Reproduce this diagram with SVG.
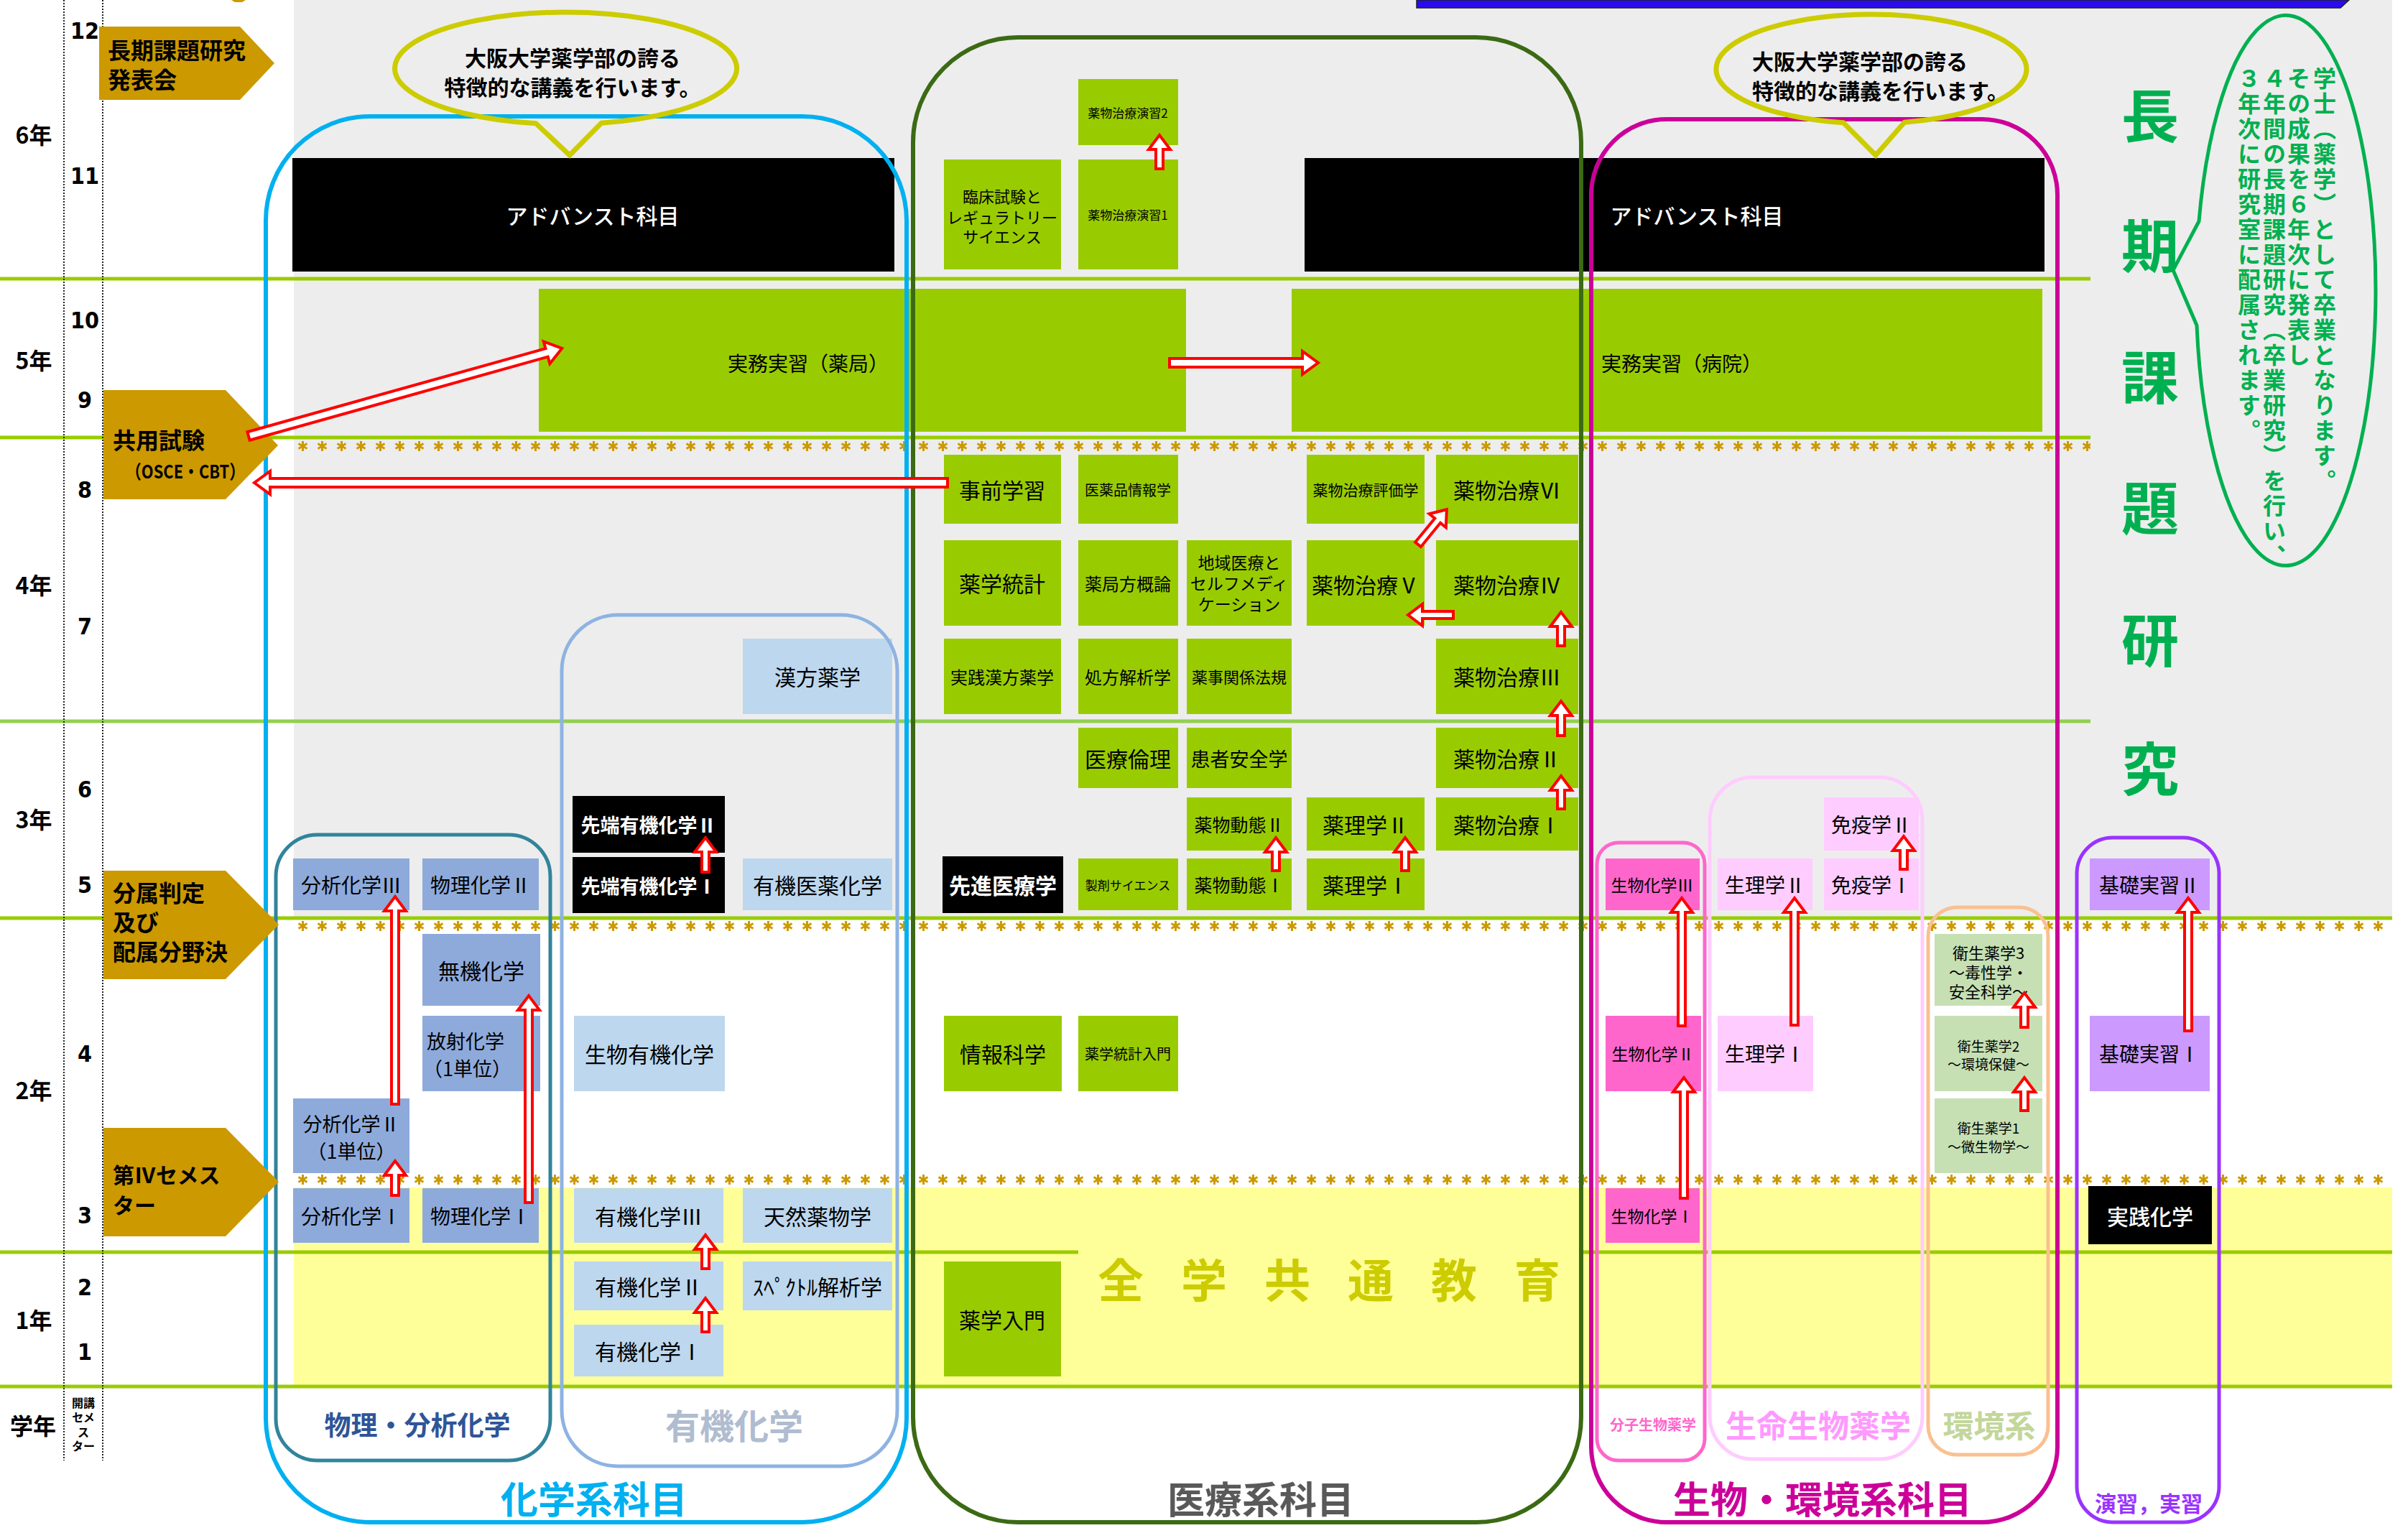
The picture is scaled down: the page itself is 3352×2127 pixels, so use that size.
<svg xmlns="http://www.w3.org/2000/svg" width="3352" height="2127" viewBox="0 0 3352 2127">
<style>
text{font-family:"Noto Sans CJK JP","Noto Sans CJK SC",sans-serif;}
.n{font-size:30px;fill:#000;text-anchor:middle;dominant-baseline:central;}
.w{fill:#fff;}
.gr{fill:#99cc00}
.b1{fill:#8eaadb}
.b2{fill:#bdd7ee}
.k{fill:#000}
.pk{fill:#ff66cc}
.lp{fill:#ffccff}
.lg{fill:#c6e0b4}
.pu{fill:#cc99ff}
.pent{fill:#cc9900}
.pt{font-size:32px;font-weight:bold;fill:#000;dominant-baseline:central;}
.yr{font-size:32px;font-weight:bold;fill:#000;text-anchor:middle;dominant-baseline:central;}
.sem{font-family:"DejaVu Sans Condensed","Liberation Sans Narrow","Liberation Sans",sans-serif;font-size:32px;font-weight:bold;fill:#000;text-anchor:middle;dominant-baseline:central;}
.hl{stroke:#99cc00;stroke-width:5;}
.cont{fill:none;}
.arr{fill:#fff;stroke:#ff0000;stroke-width:4;}
.lbl{font-weight:bold;text-anchor:middle;dominant-baseline:central;}
.vt{font-size:32px;font-weight:bold;fill:#00b050;writing-mode:vertical-rl;letter-spacing:3px;}
</style>
<defs>
<pattern id="ast" x="408" y="0" width="27" height="28" patternUnits="userSpaceOnUse">
<g stroke="#cc9900" stroke-width="3"><line x1="13.5" y1="7" x2="13.5" y2="21"/><line x1="7.5" y1="10.5" x2="19.5" y2="17.5"/><line x1="7.5" y1="17.5" x2="19.5" y2="10.5"/></g>
</pattern>
</defs>
<rect width="3352" height="2127" fill="#fff"/>
<rect x="409" y="0" width="2921" height="1278" fill="#ededed"/>
<rect x="409" y="1653" width="2921" height="275" fill="#ffff99"/>
<polygon points="1972,0 3270,0 3258,11 1972,11" fill="#2a0ced" stroke="#222" stroke-width="1.5"/>
<polygon points="322,0 342,0 337,3 327,3" fill="#cc9900"/>

<g id="grid">
<line class="hl" x1="0" y1="388" x2="2910" y2="388"/>
<line class="hl" x1="0" y1="609" x2="2910" y2="609"/>
<line x1="0" y1="1004" x2="2910" y2="1004" stroke="#92d050" stroke-width="5"/>
<line class="hl" x1="0" y1="1278" x2="3330" y2="1278"/>
<line class="hl" x1="0" y1="1743" x2="1501" y2="1743"/>
<line class="hl" x1="2201" y1="1743" x2="3330" y2="1743"/>
<line class="hl" x1="0" y1="1930" x2="3330" y2="1930"/>
<rect x="408" y="0" width="2502" height="28" fill="url(#ast)" transform="translate(0,607)"/>
<rect x="408" y="0" width="2922" height="28" fill="url(#ast)" transform="translate(0,1275)"/>
<rect x="408" y="0" width="2922" height="28" fill="url(#ast)" transform="translate(0,1628)"/>
<line x1="89" y1="0" x2="89" y2="2033" stroke="#222" stroke-width="2" stroke-dasharray="2 2"/>
<line x1="143" y1="0" x2="143" y2="2033" stroke="#222" stroke-width="2" stroke-dasharray="2 2"/>
</g>

<g id="years">
<text class="yr" x="47" y="186">6年</text>
<text class="yr" x="47" y="500">5年</text>
<text class="yr" x="47" y="813">4年</text>
<text class="yr" x="47" y="1139">3年</text>
<text class="yr" x="47" y="1516">2年</text>
<text class="yr" x="47" y="1836">1年</text>
<text class="yr" x="46" y="1983">学年</text>
<text class="sem" x="118" y="43">12</text>
<text class="sem" x="118" y="245">11</text>
<text class="sem" x="118" y="446">10</text>
<text class="sem" x="118" y="557">9</text>
<text class="sem" x="118" y="682">8</text>
<text class="sem" x="118" y="872">7</text>
<text class="sem" x="118" y="1099">6</text>
<text class="sem" x="118" y="1232">5</text>
<text class="sem" x="118" y="1467">4</text>
<text class="sem" x="118" y="1692">3</text>
<text class="sem" x="118" y="1792">2</text>
<text class="sem" x="118" y="1882">1</text>
<text font-size="16" font-weight="bold" text-anchor="middle" dominant-baseline="central"><tspan x="116" y="1952">開講</tspan><tspan x="116" y="1972">セメ</tspan><tspan x="116" y="1993">ス</tspan><tspan x="116" y="2012">ター</tspan></text>
</g>

<!-- chemistry nodes -->
<g id="n-bunseki3"><rect class="b1" x="408" y="1195" width="162" height="72"/><text class="n" x="489" y="1231" style="font-size:28px">分析化学Ⅲ</text></g>
<g id="n-butsuri2"><rect class="b1" x="588" y="1195" width="162" height="72"/><text class="n" x="669" y="1231" style="font-size:28px">物理化学Ⅱ</text></g>
<g id="n-muki"><rect class="b1" x="588" y="1300" width="164" height="100"/><text class="n" x="670" y="1350">無機化学</text></g>
<g id="n-hoshasen"><rect class="b1" x="588" y="1414" width="164" height="105"/><text class="n" x="594" y="1448" style="font-size:27px;text-anchor:start">放射化学</text><text class="n" x="589" y="1486" style="font-size:27px;text-anchor:start">（1単位）</text></g>
<g id="n-bunseki2"><rect class="b1" x="408" y="1529" width="162" height="104"/><text class="n" x="489" y="1563" style="font-size:27px">分析化学Ⅱ</text><text class="n" x="489" y="1601" style="font-size:27px">（1単位）</text></g>
<g id="n-bunseki1"><rect class="b1" x="408" y="1654" width="162" height="76"/><text class="n" x="489" y="1692" style="font-size:28px">分析化学Ⅰ</text></g>
<g id="n-butsuri1"><rect class="b1" x="588" y="1654" width="162" height="76"/><text class="n" x="669" y="1692" style="font-size:28px">物理化学Ⅰ</text></g>

<g id="n-kampo"><rect class="b2" x="1034" y="889" width="208" height="105"/><text class="n" x="1138" y="941">漢方薬学</text></g>
<g id="n-sentan2"><rect class="k" x="797" y="1108" width="212" height="79"/><text class="n w" x="903" y="1147" style="font-size:27px;font-weight:bold">先端有機化学Ⅱ</text></g>
<g id="n-sentan1"><rect class="k" x="797" y="1193" width="212" height="78"/><text class="n w" x="903" y="1232" style="font-size:27px;font-weight:bold">先端有機化学Ⅰ</text></g>
<g id="n-yukiiyaku"><rect class="b2" x="1034" y="1195" width="208" height="72"/><text class="n" x="1138" y="1231">有機医薬化学</text></g>
<g id="n-seibutsuyuki"><rect class="b2" x="799" y="1414" width="210" height="105"/><text class="n" x="904" y="1466">生物有機化学</text></g>
<g id="n-yuki3"><rect class="b2" x="799" y="1654" width="208" height="76"/><text class="n" x="903" y="1692">有機化学Ⅲ</text></g>
<g id="n-tennen"><rect class="b2" x="1034" y="1654" width="208" height="76"/><text class="n" x="1138" y="1692">天然薬物学</text></g>
<g id="n-yuki2"><rect class="b2" x="799" y="1756" width="208" height="68"/><text class="n" x="903" y="1790">有機化学Ⅱ</text></g>
<g id="n-spectr"><rect class="b2" x="1034" y="1756" width="208" height="68"/><text class="n" x="1138" y="1790">ｽﾍﾟｸﾄﾙ解析学</text></g>
<g id="n-yuki1"><rect class="b2" x="799" y="1844" width="208" height="72"/><text class="n" x="903" y="1880">有機化学Ⅰ</text></g>

<!-- medical nodes -->
<g id="n-adv1"><rect class="k" x="407" y="220" width="838" height="158"/><text class="n w" x="825" y="299" style="font-weight:500">アドバンスト科目</text></g>
<g id="n-adv2"><rect class="k" x="1816" y="220" width="1030" height="158"/><text class="n w" x="2362" y="299" style="font-weight:500">アドバンスト科目</text></g>
<g id="n-enshu2"><rect class="gr" x="1501" y="110" width="139" height="92"/><text class="n" x="1570" y="156" style="font-size:17px">薬物治療演習2</text></g>
<g id="n-rinsho"><rect class="gr" x="1314" y="222" width="163" height="153"/><text class="n" x="1395" y="272" style="font-size:22px">臨床試験と</text><text class="n" x="1395" y="301" style="font-size:22px">レギュラトリー</text><text class="n" x="1395" y="328" style="font-size:22px">サイエンス</text></g>
<g id="n-enshu1"><rect class="gr" x="1501" y="222" width="139" height="153"/><text class="n" x="1570" y="298" style="font-size:17px">薬物治療演習1</text></g>
<g id="n-jitsumu1"><rect class="gr" x="750" y="402" width="901" height="199"/><text class="n" x="1125" y="505" style="font-size:28px">実務実習（薬局）</text></g>
<g id="n-jitsumu2"><rect class="gr" x="1798" y="402" width="1045" height="199"/><text class="n" x="2341" y="505" style="font-size:28px">実務実習（病院）</text></g>
<g id="n-jizen"><rect class="gr" x="1314" y="633" width="163" height="96"/><text class="n" x="1395" y="681">事前学習</text></g>
<g id="n-iyakuhin"><rect class="gr" x="1501" y="633" width="139" height="96"/><text class="n" x="1570" y="681" style="font-size:20px">医薬品情報学</text></g>
<g id="n-hyoka"><rect class="gr" x="1819" y="633" width="164" height="96"/><text class="n" x="1901" y="681" style="font-size:21px">薬物治療評価学</text></g>
<g id="n-chiryo6"><rect class="gr" x="1999" y="633" width="198" height="96"/><text class="n" x="2098" y="681">薬物治療Ⅵ</text></g>
<g id="n-tokei"><rect class="gr" x="1314" y="752" width="163" height="119"/><text class="n" x="1395" y="811">薬学統計</text></g>
<g id="n-kyokuho"><rect class="gr" x="1501" y="752" width="139" height="119"/><text class="n" x="1570" y="811" style="font-size:24px">薬局方概論</text></g>
<g id="n-chiiki"><rect class="gr" x="1652" y="752" width="146" height="119"/><text class="n" x="1725" y="782" style="font-size:23px">地域医療と</text><text class="n" x="1725" y="811" style="font-size:23px">セルフメディ</text><text class="n" x="1725" y="840" style="font-size:23px">ケーション</text></g>
<g id="n-chiryo5"><rect class="gr" x="1819" y="752" width="164" height="119"/><text class="n" x="1901" y="813">薬物治療Ⅴ</text></g>
<g id="n-chiryo4"><rect class="gr" x="1999" y="752" width="198" height="119"/><text class="n" x="2098" y="813">薬物治療Ⅳ</text></g>
<g id="n-jissenkampo"><rect class="gr" x="1314" y="889" width="163" height="105"/><text class="n" x="1395" y="941" style="font-size:24px">実践漢方薬学</text></g>
<g id="n-shoho"><rect class="gr" x="1501" y="889" width="139" height="105"/><text class="n" x="1570" y="941" style="font-size:24px">処方解析学</text></g>
<g id="n-yakuji"><rect class="gr" x="1652" y="889" width="146" height="105"/><text class="n" x="1725" y="941" style="font-size:22px">薬事関係法規</text></g>
<g id="n-chiryo3"><rect class="gr" x="1999" y="889" width="198" height="105"/><text class="n" x="2098" y="941">薬物治療Ⅲ</text></g>
<g id="n-rinri"><rect class="gr" x="1501" y="1013" width="139" height="84"/><text class="n" x="1570" y="1055">医療倫理</text></g>
<g id="n-kanja"><rect class="gr" x="1652" y="1013" width="146" height="84"/><text class="n" x="1725" y="1055" style="font-size:27px">患者安全学</text></g>
<g id="n-chiryo2"><rect class="gr" x="1999" y="1013" width="198" height="84"/><text class="n" x="2098" y="1055">薬物治療Ⅱ</text></g>
<g id="n-dotai2"><rect class="gr" x="1652" y="1110" width="146" height="74"/><text class="n" x="1725" y="1147" style="font-size:25px">薬物動態Ⅱ</text></g>
<g id="n-yakuri2"><rect class="gr" x="1819" y="1110" width="164" height="74"/><text class="n" x="1901" y="1147">薬理学Ⅱ</text></g>
<g id="n-chiryo1"><rect class="gr" x="1999" y="1110" width="198" height="74"/><text class="n" x="2098" y="1147">薬物治療Ⅰ</text></g>
<g id="n-senshin"><rect class="k" x="1312" y="1192" width="168" height="79"/><text class="n w" x="1396" y="1231" style="font-weight:bold">先進医療学</text></g>
<g id="n-seizai"><rect class="gr" x="1501" y="1195" width="139" height="72"/><text class="n" x="1570" y="1231" style="font-size:17px">製剤サイエンス</text></g>
<g id="n-dotai1"><rect class="gr" x="1652" y="1195" width="146" height="72"/><text class="n" x="1725" y="1231" style="font-size:25px">薬物動態Ⅰ</text></g>
<g id="n-yakuri1"><rect class="gr" x="1819" y="1195" width="164" height="72"/><text class="n" x="1901" y="1231">薬理学Ⅰ</text></g>
<g id="n-joho"><rect class="gr" x="1314" y="1414" width="164" height="105"/><text class="n" x="1396" y="1466">情報科学</text></g>
<g id="n-tokeinyumon"><rect class="gr" x="1501" y="1414" width="139" height="105"/><text class="n" x="1570" y="1466" style="font-size:20px">薬学統計入門</text></g>
<g id="n-nyumon"><rect class="gr" x="1314" y="1756" width="163" height="160"/><text class="n" x="1395" y="1836">薬学入門</text></g>

<!-- bio nodes -->
<g id="n-seika3"><rect class="pk" x="2235" y="1195" width="131" height="72"/><text class="n" x="2300" y="1231" style="font-size:23px">生物化学Ⅲ</text></g>
<g id="n-seika2"><rect class="pk" x="2235" y="1414" width="133" height="105"/><text class="n" x="2301" y="1466" style="font-size:23px">生物化学Ⅱ</text></g>
<g id="n-seika1"><rect class="pk" x="2235" y="1654" width="131" height="76"/><text class="n" x="2300" y="1692" style="font-size:23px">生物化学Ⅰ</text></g>
<g id="n-seiri2"><rect class="lp" x="2391" y="1195" width="132" height="72"/><text class="n" x="2457" y="1231" style="font-size:28px">生理学Ⅱ</text></g>
<g id="n-seiri1"><rect class="lp" x="2391" y="1414" width="133" height="105"/><text class="n" x="2457" y="1466" style="font-size:28px">生理学Ⅰ</text></g>
<g id="n-meneki2"><rect class="lp" x="2539" y="1110" width="132" height="74"/><text class="n" x="2605" y="1147" style="font-size:28px">免疫学Ⅱ</text></g>
<g id="n-meneki1"><rect class="lp" x="2539" y="1195" width="132" height="72"/><text class="n" x="2605" y="1231" style="font-size:28px">免疫学Ⅰ</text></g>
<g id="n-eisei3"><rect class="lg" x="2693" y="1300" width="150" height="100"/><text class="n" x="2768" y="1325" style="font-size:22px">衛生薬学3</text><text class="n" x="2768" y="1352" style="font-size:22px">～毒性学・</text><text class="n" x="2768" y="1379" style="font-size:22px">安全科学～</text></g>
<g id="n-eisei2"><rect class="lg" x="2693" y="1414" width="150" height="105"/><text class="n" x="2768" y="1455" style="font-size:19px">衛生薬学2</text><text class="n" x="2768" y="1480" style="font-size:19px">～環境保健～</text></g>
<g id="n-eisei1"><rect class="lg" x="2693" y="1529" width="150" height="104"/><text class="n" x="2768" y="1569" style="font-size:19px">衛生薬学1</text><text class="n" x="2768" y="1595" style="font-size:19px">～微生物学～</text></g>
<g id="n-kiso2"><rect class="pu" x="2909" y="1195" width="167" height="72"/><text class="n" x="2992" y="1231" style="font-size:28px">基礎実習Ⅱ</text></g>
<g id="n-kiso1"><rect class="pu" x="2909" y="1414" width="167" height="105"/><text class="n" x="2992" y="1466" style="font-size:28px">基礎実習Ⅰ</text></g>
<g id="n-jissenkagaku"><rect class="k" x="2907" y="1651" width="172" height="81"/><text class="n w" x="2993" y="1692" style="font-weight:500">実践化学</text></g>

<!-- containers -->
<g id="c-kagaku"><rect class="cont" x="370" y="162" width="892" height="1957" rx="145" stroke="#00b0f0" stroke-width="6"/><text class="lbl" x="827" y="2084" font-size="52" fill="#00b0f0">化学系科目</text></g>
<g id="c-butsuri"><rect class="cont" x="384" y="1162" width="382" height="871" rx="58" stroke="#31849b" stroke-width="5"/><text class="lbl" x="581" y="1982" font-size="37" fill="#2f5597">物理・分析化学</text></g>
<g id="c-yuki"><rect class="cont" x="782" y="856" width="467" height="1185" rx="78" stroke="#8db3e2" stroke-width="5"/><text class="lbl" x="1022" y="1982" font-size="48" fill="#b0bccf">有機化学</text></g>
<g id="c-iryo"><rect class="cont" x="1271" y="52" width="930" height="2067" rx="146" stroke="#3b6a14" stroke-width="6"/><text class="lbl" x="1755" y="2084" font-size="52" fill="#595959">医療系科目</text></g>
<g id="c-seibutsu"><rect class="cont" x="2215" y="166" width="649" height="1953" rx="105" stroke="#cc0099" stroke-width="6"/><text class="lbl" x="2537" y="2084" font-size="52" fill="#cc0099">生物・環境系科目</text></g>
<g id="c-bunshi"><rect class="cont" x="2223" y="1173" width="150" height="860" rx="30" stroke="#ff66cc" stroke-width="5"/><text class="lbl" x="2301" y="1982" font-size="20" fill="#ff66cc">分子生物薬学</text></g>
<g id="c-seimei"><rect class="cont" x="2380" y="1082" width="296" height="949" rx="60" stroke="#ffccff" stroke-width="5"/><text class="lbl" x="2531" y="1982" font-size="43" fill="#ff99ff">生命生物薬学</text></g>
<g id="c-kankyo"><rect class="cont" x="2684" y="1263" width="167" height="762" rx="40" stroke="#fac090" stroke-width="5"/><text class="lbl" x="2769" y="1982" font-size="43" fill="#c3d69b">環境系</text></g>
<g id="c-enshu"><rect class="cont" x="2891" y="1166" width="198" height="953" rx="50" stroke="#9933ff" stroke-width="5"/><text class="lbl" x="2991" y="2091" font-size="30" fill="#9933ff">演習，実習</text></g>

<!-- pentagons -->
<g id="p-happyo"><polygon class="pent" points="138,37 334,37 382,88 334,139 138,139"/><text class="pt" x="150" y="68">長期課題研究</text><text class="pt" x="150" y="109">発表会</text></g>
<g id="p-kyoyo"><polygon class="pent" points="144,543 314,543 387,620 314,695 144,695"/><text class="pt" x="157" y="611">共用試験</text><text class="pt" x="175" y="654" style="font-size:26px" textLength="166" lengthAdjust="spacingAndGlyphs">（OSCE・CBT）</text></g>
<g id="p-bunzoku"><polygon class="pent" points="144,1212 314,1212 388,1287 314,1363 144,1363"/><text class="pt" x="157" y="1241">分属判定</text><text class="pt" x="157" y="1282">及び</text><text class="pt" x="157" y="1323">配属分野決</text></g>
<g id="p-sem4"><polygon class="pent" points="144,1570 314,1570 388,1645 314,1721 144,1721"/><text class="pt" x="157" y="1634" style="font-size:30px">第Ⅳセメス</text><text class="pt" x="157" y="1676" style="font-size:30px">ター</text></g>

<!-- callouts -->
<g id="bubble-left"><path d="M746,171.8 A238,78 0 1 1 837,171.3 L793,216 Z" fill="none" stroke="#cccc00" stroke-width="7"/><text class="lbl" x="797" y="79" font-size="30">大阪大学薬学部の誇る</text><text class="lbl" x="797" y="120" font-size="30">特徴的な講義を行います。</text></g>
<g id="bubble-right"><path d="M2566,170.8 A216,76 0 1 1 2651,170.3 L2611,216 Z" fill="none" stroke="#cccc00" stroke-width="7"/><text class="pt" x="2439" y="84" style="font-size:30px">大阪大学薬学部の誇る</text><text class="pt" x="2439" y="125" style="font-size:30px">特徴的な講義を行います。</text></g>
<g id="research"><text class="lbl" font-size="80" fill="#00b050"><tspan x="2993" y="156">長</tspan><tspan x="2993" y="337">期</tspan><tspan x="2993" y="520">課</tspan><tspan x="2993" y="702">題</tspan><tspan x="2993" y="886">研</tspan><tspan x="2993" y="1065">究</tspan></text></g>
<g id="bubble-research"><path d="M3061,308 A125,383 0 1 1 3058,453 L3025,376 Z" fill="none" stroke="#00b050" stroke-width="5"/>
<text class="vt" x="3236" y="93">学士（薬学）として卒業となります。</text>
<text class="vt" x="3200" y="93">その成果を６年次に発表し</text>
<text class="vt" x="3166" y="93">４年間の長期課題研究（卒業研究）を行い、</text>
<text class="vt" x="3131" y="93">３年次に研究室に配属されます。</text>
</g>
<g id="zengaku"><text x="1528" y="1778" font-size="64" font-weight="bold" fill="#cccc00" letter-spacing="52" dominant-baseline="central">全学共通教育</text></g>

<g id="connectors">
<path class="arr" transform="translate(346 607) rotate(-15.63)" d="M0,-6H431V-16L453,0L431,16V6H0Z"/>
<path class="arr" transform="translate(1319 672) rotate(180)" d="M0,-6H943V-16L965,0L943,16V6H0Z"/>
<path class="arr" transform="translate(1628 505)" d="M0,-6H185V-16L207,0L185,16V6H0Z"/>
<path class="arr" transform="translate(1614 235) rotate(-90)" d="M0,-5H27V-15L47,0L27,15V5H0Z"/>
<path class="arr" transform="translate(1974 758) rotate(-50.77)" d="M0,-5H43V-15L63,0L43,15V5H0Z"/>
<path class="arr" transform="translate(2023 856) rotate(180)" d="M0,-5H43V-15L63,0L43,15V5H0Z"/>
<path class="arr" transform="translate(2173 899) rotate(-90)" d="M0,-5H27V-15L47,0L27,15V5H0Z"/>
<path class="arr" transform="translate(2173 1024) rotate(-90)" d="M0,-5H28V-15L48,0L28,15V5H0Z"/>
<path class="arr" transform="translate(2173 1126) rotate(-90)" d="M0,-5H26V-15L46,0L26,15V5H0Z"/>
<path class="arr" transform="translate(1776 1212) rotate(-90)" d="M0,-5H26V-15L46,0L26,15V5H0Z"/>
<path class="arr" transform="translate(1956 1212) rotate(-90)" d="M0,-5H26V-15L46,0L26,15V5H0Z"/>
<path class="arr" transform="translate(982 1214) rotate(-90)" d="M0,-5H28V-15L48,0L28,15V5H0Z"/>
<path class="arr" transform="translate(550 1664) rotate(-90)" d="M0,-5H28V-15L48,0L28,15V5H0Z"/>
<path class="arr" transform="translate(550 1537) rotate(-90)" d="M0,-5H269V-15L289,0L269,15V5H0Z"/>
<path class="arr" transform="translate(736 1674) rotate(-90)" d="M0,-5H268V-15L288,0L268,15V5H0Z"/>
<path class="arr" transform="translate(982 1766) rotate(-90)" d="M0,-5H27V-15L47,0L27,15V5H0Z"/>
<path class="arr" transform="translate(982 1854) rotate(-90)" d="M0,-5H27V-15L47,0L27,15V5H0Z"/>
<path class="arr" transform="translate(2650 1210) rotate(-90)" d="M0,-5H26V-15L46,0L26,15V5H0Z"/>
<path class="arr" transform="translate(2344 1668) rotate(-90)" d="M0,-5H148V-15L168,0L148,15V5H0Z"/>
<path class="arr" transform="translate(2341 1428) rotate(-90)" d="M0,-5H158V-15L178,0L158,15V5H0Z"/>
<path class="arr" transform="translate(2498 1427) rotate(-90)" d="M0,-5H157V-15L177,0L157,15V5H0Z"/>
<path class="arr" transform="translate(2818 1546) rotate(-90)" d="M0,-5H26V-15L46,0L26,15V5H0Z"/>
<path class="arr" transform="translate(2818 1430) rotate(-90)" d="M0,-5H28V-15L48,0L28,15V5H0Z"/>
<path class="arr" transform="translate(3046 1435) rotate(-90)" d="M0,-5H165V-15L185,0L165,15V5H0Z"/>
</g>
</svg>
